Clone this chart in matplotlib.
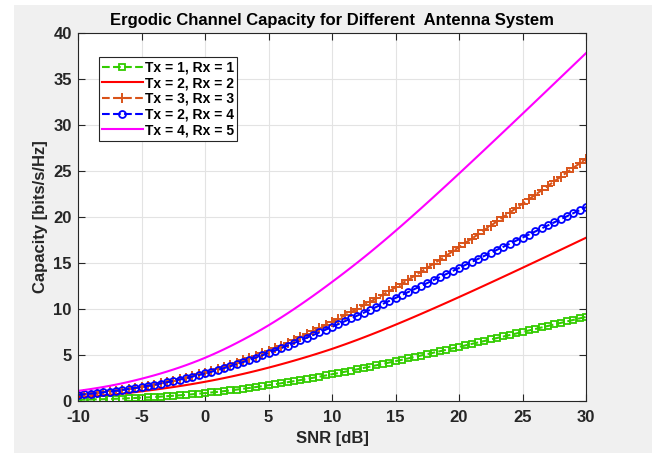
import numpy as np
import matplotlib
matplotlib.use("Agg")
import matplotlib.pyplot as plt
from matplotlib.patches import Rectangle

plt.rcParams['font.family'] = ['Liberation Sans', 'DejaVu Sans']
plt.rcParams['axes.unicode_minus'] = False

# SNR grid [dB]
snr_db = np.arange(-10, 30.5, 0.5)

# ergodic capacity [bits/s/Hz]
cap_1x1 = [0.132, 0.146, 0.162, 0.180, 0.200, 0.222, 0.245, 0.270, 0.297, 0.328,
           0.362, 0.396, 0.434, 0.476, 0.521, 0.570, 0.619, 0.672, 0.730, 0.792,
           0.860, 0.926, 0.996, 1.072, 1.154, 1.242, 1.330, 1.421, 1.516, 1.614,
           1.716, 1.821, 1.930, 2.042, 2.157, 2.275, 2.395, 2.519, 2.645, 2.774,
           2.906, 3.040, 3.176, 3.314, 3.454, 3.596, 3.739, 3.884, 4.031, 4.180,
           4.330, 4.481, 4.633, 4.787, 4.942, 5.097, 5.253, 5.410, 5.568, 5.726,
           5.884, 6.043, 6.203, 6.364, 6.525, 6.687, 6.849, 7.011, 7.174, 7.337,
           7.500, 7.664, 7.828, 7.992, 8.156, 8.320, 8.484, 8.649, 8.814, 8.979,
           9.144]

cap_2x2 = [0.424, 0.468, 0.515, 0.565, 0.619, 0.677, 0.743, 0.813, 0.887, 0.966,
           1.050, 1.135, 1.224, 1.317, 1.414, 1.515, 1.620, 1.730, 1.845, 1.964,
           2.088, 2.217, 2.352, 2.492, 2.637, 2.787, 2.944, 3.106, 3.273, 3.446,
           3.624, 3.806, 3.993, 4.185, 4.382, 4.584, 4.789, 4.999, 5.215, 5.437,
           5.664, 5.902, 6.145, 6.395, 6.650, 6.912, 7.178, 7.449, 7.724, 8.004,
           8.288, 8.576, 8.867, 9.162, 9.459, 9.760, 10.063, 10.367, 10.674, 10.983,
           11.294, 11.607, 11.920, 12.236, 12.553, 12.871, 13.190, 13.511, 13.832, 14.155,
           14.478, 14.802, 15.127, 15.452, 15.778, 16.105, 16.432, 16.760, 17.087, 17.416,
           17.744]

cap_3x3 = [0.681, 0.745, 0.813, 0.885, 0.962, 1.043, 1.128, 1.220, 1.317, 1.421,
           1.530, 1.648, 1.775, 1.910, 2.052, 2.203, 2.363, 2.532, 2.710, 2.896,
           3.090, 3.292, 3.501, 3.719, 3.943, 4.176, 4.413, 4.659, 4.912, 5.172,
           5.441, 5.721, 6.010, 6.307, 6.612, 6.925, 7.246, 7.573, 7.907, 8.248,
           8.595, 8.945, 9.300, 9.661, 10.028, 10.400, 10.777, 11.160, 11.549, 11.945,
           12.347, 12.760, 13.179, 13.604, 14.036, 14.473, 14.915, 15.361, 15.811, 16.265,
           16.724, 17.185, 17.649, 18.116, 18.586, 19.058, 19.532, 20.007, 20.485, 20.964,
           21.445, 21.928, 22.412, 22.897, 23.384, 23.872, 24.361, 24.850, 25.340, 25.830,
           26.321]

cap_2x4 = [0.670, 0.731, 0.797, 0.868, 0.944, 1.025, 1.114, 1.208, 1.309, 1.416,
           1.529, 1.647, 1.771, 1.902, 2.038, 2.181, 2.329, 2.483, 2.645, 2.814,
           2.990, 3.176, 3.370, 3.572, 3.782, 4.000, 4.228, 4.463, 4.705, 4.954,
           5.211, 5.473, 5.741, 6.014, 6.293, 6.577, 6.865, 7.156, 7.451, 7.750,
           8.053, 8.358, 8.665, 8.975, 9.287, 9.601, 9.917, 10.235, 10.554, 10.875,
           11.197, 11.520, 11.844, 12.168, 12.494, 12.820, 13.148, 13.475, 13.803, 14.131,
           14.460, 14.789, 15.118, 15.448, 15.778, 16.108, 16.439, 16.769, 17.100, 17.431,
           17.762, 18.093, 18.425, 18.756, 19.088, 19.419, 19.751, 20.083, 20.414, 20.746,
           21.078]

cap_4x5 = [1.102, 1.197, 1.299, 1.408, 1.525, 1.649, 1.785, 1.929, 2.083, 2.247,
           2.419, 2.599, 2.789, 2.988, 3.198, 3.418, 3.649, 3.891, 4.146, 4.414,
           4.693, 4.990, 5.300, 5.623, 5.959, 6.309, 6.667, 7.038, 7.421, 7.816,
           8.223, 8.646, 9.080, 9.526, 9.984, 10.453, 10.932, 11.419, 11.915, 12.420,
           12.934, 13.451, 13.976, 14.509, 15.050, 15.599, 16.160, 16.730, 17.308, 17.893,
           18.487, 19.088, 19.695, 20.307, 20.925, 21.548, 22.174, 22.804, 23.438, 24.075,
           24.715, 25.357, 26.002, 26.648, 27.296, 27.947, 28.598, 29.251, 29.904, 30.559,
           31.215, 31.872, 32.530, 33.188, 33.847, 34.507, 35.167, 35.828, 36.489, 37.150,
           37.812]

labels = ['Tx = 1, Rx = 1', 'Tx = 2, Rx = 2', 'Tx = 3, Rx = 3',
          'Tx = 2, Rx = 4', 'Tx = 4, Rx = 5']

txt = '#262626'

fig = plt.figure(figsize=(6.52, 4.53), dpi=100, facecolor='white')
# matlab style grey figure area
fig.patches.append(Rectangle((14 / 652, 0), 1, 1 - 5 / 453, transform=fig.transFigure,
                             facecolor='#f0f0f0', edgecolor='none', zorder=-10))
ax = fig.add_axes([78 / 652, 1 - 401 / 453, 508 / 652, 368 / 453])
ax.set_facecolor('white')

ax.plot(snr_db, cap_1x1, '--s', color='#33cc00', lw=1.5, ms=4, mfc='none', mew=1.3, label=labels[0])
ax.plot(snr_db, cap_2x2, '-', color='#ff0000', lw=1.5, label=labels[1])
ax.plot(snr_db, cap_3x3, '--+', color='#d95319', lw=1.5, ms=7, mew=1.4, label=labels[2])
ax.plot(snr_db, cap_2x4, '--o', color='#0000ff', lw=1.5, ms=5, mfc='none', mew=1.3, label=labels[3])
ax.plot(snr_db, cap_4x5, '-', color='#ff00ff', lw=1.5, label=labels[4])

ax.set_xlim(-10, 30)
ax.set_ylim(0, 40)
ax.set_xticks(np.arange(-10, 31, 5))
ax.set_yticks(np.arange(0, 41, 5))
ax.grid(True, color='#e3e3e3', lw=0.8)
ax.set_axisbelow(True)
ax.tick_params(direction='in', top=True, right=True, length=5, width=0.8,
               labelsize=12, colors=txt)
ax.tick_params(axis='x', pad=6.5)
ax.tick_params(axis='y', pad=4.5)
for lab in ax.get_xticklabels() + ax.get_yticklabels():
    lab.set_fontweight('bold')
for s in ax.spines.values():
    s.set_color(txt)
    s.set_linewidth(0.8)

ax.set_xlabel('SNR [dB]', fontsize=12, fontweight='bold', color=txt, labelpad=4)
ax.set_ylabel('Capacity [bits/s/Hz]', fontsize=12, fontweight='bold', color=txt, labelpad=4)
ax.set_title('Ergodic Channel Capacity for Different  Antenna System',
             fontsize=12, fontweight='bold', color='black', pad=6)

leg = ax.legend(loc='upper left', bbox_to_anchor=(0.041, 0.935), borderaxespad=0,
                fancybox=False, framealpha=1, edgecolor=txt, handlelength=2.9,
                handletextpad=0.15, labelspacing=0.12, borderpad=0.25,
                prop={'weight': 'bold', 'size': 10})
leg.get_frame().set_linewidth(0.8)

fig.savefig('out.png', dpi=100, facecolor=fig.get_facecolor())
